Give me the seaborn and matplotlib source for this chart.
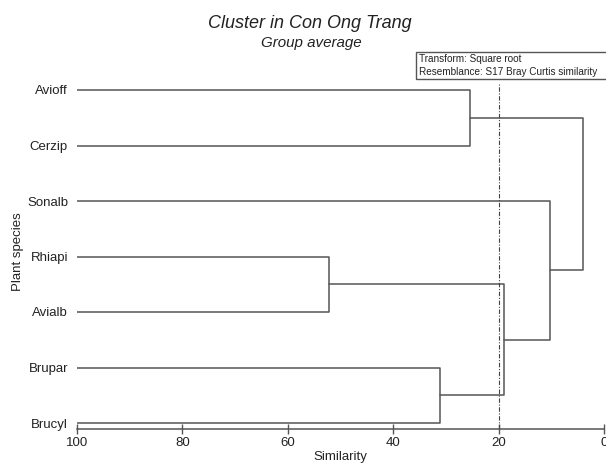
import matplotlib
matplotlib.use("Agg")
import matplotlib.pyplot as plt
import seaborn as sns
import pandas as pd
from matplotlib.patches import Rectangle

# ---- data ----
leaves = ["Avioff", "Cerzip", "Sonalb", "Rhiapi", "Avialb", "Brupar", "Brucyl"]
# merges: (left node, right node, similarity); new clusters named c1..c6 in order
merge_left = ["Avioff", "Rhiapi", "Brupar", "c2", "Sonalb", "c1"]
merge_right = ["Cerzip", "Avialb", "Brucyl", "c3", "c4", "c5"]
merge_sim = [25.5, 52.1, 31.2, 18.9, 10.2, 3.9]
x_ticks = [100, 80, 60, 40, 20, 0]
cut_level = 20

title = "Cluster in Con Ong Trang"
subtitle = "Group average"
legend_lines = ["Transform: Square root", "Resemblance: S17 Bray Curtis similarity"]

# ---- build dendrogram segments ----
pos = {name: i for i, name in enumerate(leaves)}
height = {name: 100.0 for name in leaves}
rows = []
seg = 0
for k, (a, b, s) in enumerate(zip(merge_left, merge_right, merge_sim), start=1):
    ya, yb = pos[a], pos[b]
    for xx, yy in [(height[a], ya), (s, ya), (s, yb), (height[b], yb)]:
        rows.append({"x": xx, "y": yy, "seg": seg})
    seg += 1
    name = f"c{k}"
    pos[name] = (ya + yb) / 2
    height[name] = s
df = pd.DataFrame(rows)

# ---- plot ----
sns.set_style("white")
plt.rcParams["font.family"] = ["Liberation Sans", "DejaVu Sans"]

W, H = 606, 463
ax_left, ax_right, ax_top, ax_bottom = 77, 604, 83, 429
fig = plt.figure(figsize=(W / 100, H / 100), dpi=100)
ax = fig.add_axes([ax_left / W, 1 - ax_bottom / H, (ax_right - ax_left) / W,
                   (ax_bottom - ax_top) / H])

sns.lineplot(data=df, x="x", y="y", units="seg", estimator=None, sort=False,
             color="#555555", linewidth=1.1, ax=ax, legend=False)
ax.axvline(cut_level, color="#444444", linewidth=0.8, linestyle=(0, (4, 1.5, 1, 1.5)))

spacing = (423 - 90) / 6
ax.set_xlim(100, 0)
ax.set_ylim(6 + (ax_bottom - 423) / spacing, -(90 - ax_top) / spacing)
ax.set_xticks(x_ticks)
ax.set_xticklabels([str(t) for t in x_ticks], fontsize=9.5)
ax.set_yticks(range(len(leaves)))
ax.set_yticklabels(leaves, fontsize=9.5)
ax.tick_params(axis="y", length=0, pad=6.5, colors="#222222")
ax.tick_params(axis="x", direction="inout", length=7, width=1, color="#555555",
               pad=2.5, colors="#222222", bottom=True)
for side in ["top", "right", "left"]:
    ax.spines[side].set_visible(False)
ax.spines["bottom"].set_color("#555555")
ax.spines["bottom"].set_linewidth(1.1)

ax.set_xlabel("Similarity", fontsize=9.5, color="#222222", va="center")
ax.xaxis.set_label_coords(0.5, -(457 - ax_bottom) / (ax_bottom - ax_top))
ax.set_ylabel("Plant species", fontsize=9.5, color="#222222", va="center")
ax.yaxis.set_label_coords((18 - ax_left) / (ax_right - ax_left),
                          (ax_bottom - 252) / (ax_bottom - ax_top))

fig.text(310 / W, 1 - 24 / H, title, ha="center", va="center",
         fontsize=13, style="italic", color="#222222")
fig.text(311 / W, 1 - 43 / H, subtitle, ha="center", va="center",
         fontsize=10.9, style="italic", color="#222222")

fig.patches.append(Rectangle((416 / W, 1 - 79 / H), 200 / W, 27 / H,
                             transform=fig.transFigure, fill=False,
                             edgecolor="#555555", linewidth=1))
fig.text(419 / W, 1 - 59 / H, legend_lines[0], ha="left", va="center",
         fontsize=7.2, color="#222222")
fig.text(419 / W, 1 - 72 / H, legend_lines[1], ha="left", va="center",
         fontsize=7.2, color="#222222")

fig.savefig("out.png", dpi=100)
